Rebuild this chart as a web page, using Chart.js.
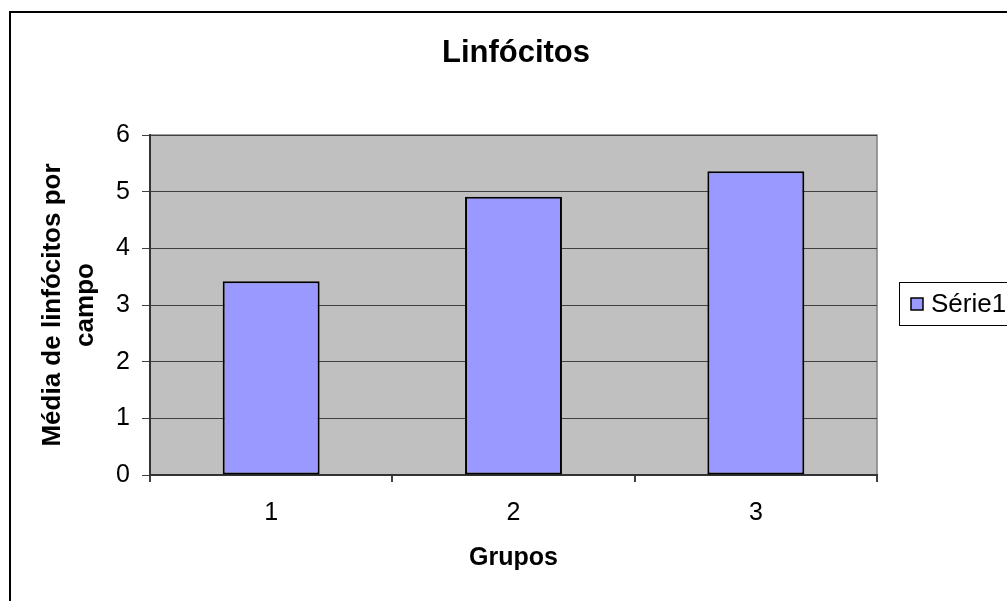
<!DOCTYPE html>
<html>
<head>
<meta charset="utf-8">
<script src="https://cdn.jsdelivr.net/npm/chart.js@4"></script>
<style>
  html, body { margin: 0; padding: 0; background: #ffffff; }
  canvas { display: block; }
</style>
</head>
<body>
<canvas id="c" width="1007" height="601"></canvas>
<script>
const chartTitle = 'Linfócitos';
const categories = ['1', '2', '3'];
const serie1 = [3.42, 4.91, 5.36];
const seriesName = 'Série1';
const yTitle = ['Média de linfócitos por', 'campo'];
const xTitle = 'Grupos';
const yMin = 0, yMax = 6, yStep = 1;

const FONT = '"Liberation Sans", Arial, sans-serif';

const decor = {
  id: 'decor',
  beforeDraw(chart) {
    const ctx = chart.ctx;
    const a = chart.chartArea;
    ctx.save();
    ctx.fillStyle = '#ffffff';
    ctx.fillRect(0, 0, chart.width, chart.height);
    // outer frame
    ctx.strokeStyle = '#000000';
    ctx.lineWidth = 2;
    ctx.strokeRect(10, 12, 1010, 600);
    // plot area
    ctx.fillStyle = '#C0C0C0';
    ctx.fillRect(a.left, a.top, a.right - a.left, a.bottom - a.top);
    ctx.strokeStyle = '#808080';
    ctx.lineWidth = 1.5;
    ctx.strokeRect(a.left, a.top, a.right - a.left, a.bottom - a.top);
    ctx.restore();
  },
  afterDraw(chart) {
    const ctx = chart.ctx;
    ctx.save();
    // title
    ctx.fillStyle = '#000000';
    ctx.font = 'bold 31px ' + FONT;
    ctx.textAlign = 'center';
    ctx.textBaseline = 'alphabetic';
    ctx.fillText(chartTitle, 516, 62);
    // legend
    ctx.fillStyle = '#ffffff';
    ctx.fillRect(899, 282, 120, 43);
    ctx.strokeStyle = '#000000';
    ctx.lineWidth = 1;
    ctx.strokeRect(899.5, 282.5, 120, 43);
    const ds = chart.data.datasets[0];
    ctx.fillStyle = ds.backgroundColor;
    ctx.fillRect(911, 298, 12, 12);
    ctx.lineWidth = 1.5;
    ctx.strokeRect(911, 298, 12, 12);
    ctx.fillStyle = '#000000';
    ctx.font = '26px ' + FONT;
    ctx.textAlign = 'left';
    ctx.fillText(ds.label, 931, 312);
    ctx.restore();
  }
};

new Chart(document.getElementById('c'), {
  type: 'bar',
  data: {
    labels: categories,
    datasets: [{
      label: seriesName,
      data: serie1,
      backgroundColor: '#9999FF',
      borderColor: '#000000',
      borderWidth: 2,
      borderSkipped: false,
      categoryPercentage: 1.0,
      barPercentage: 0.4
    }]
  },
  options: {
    responsive: false,
    animation: false,
    devicePixelRatio: 1,
    layout: { padding: { left: 0, top: 135, right: 130, bottom: 0 } },
    plugins: {
      legend: { display: false },
      title: { display: false },
      tooltip: { enabled: false }
    },
    scales: {
      x: {
        offset: true,
        grid: {
          offset: true,
          drawOnChartArea: false,
          drawTicks: true,
          tickLength: 7,
          color: '#404040',
          lineWidth: 2
        },
        border: { display: true, color: '#333333', width: 2 },
        ticks: {
          color: '#000000',
          font: { family: FONT, size: 25 },
          padding: 16
        },
        title: {
          display: true,
          text: xTitle,
          color: '#000000',
          font: { family: FONT, size: 25, weight: 'bold' },
          padding: { top: 0, bottom: 28 }
        },
        afterFit(scale) { scale.height = 126; }
      },
      y: {
        min: yMin,
        max: yMax,
        ticks: {
          stepSize: yStep,
          color: '#000000',
          font: { family: FONT, size: 25 },
          padding: 12
        },
        grid: {
          color: '#404040',
          lineWidth: 1,
          tickLength: 8
        },
        border: { display: true, color: '#333333', width: 2 },
        title: {
          display: true,
          text: yTitle,
          color: '#000000',
          font: { family: FONT, size: 26, weight: 'bold', lineHeight: 1.28 },
          padding: { top: 36, bottom: 0 }
        },
        afterFit(scale) { scale.width = 150; }
      }
    }
  },
  plugins: [decor]
});
</script>
</body>
</html>
